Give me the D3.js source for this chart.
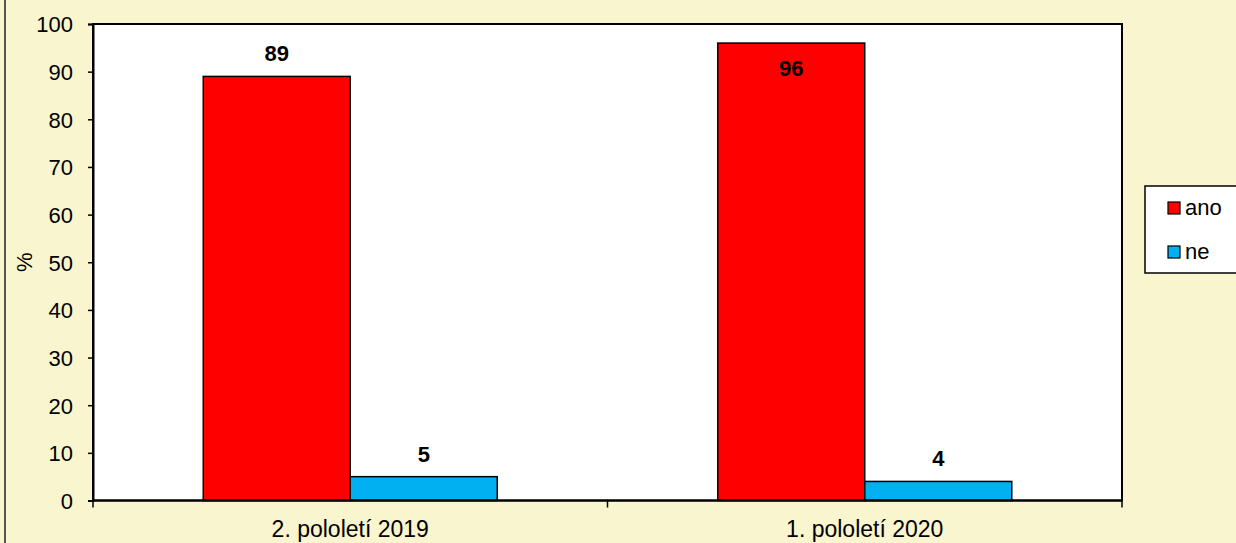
<!DOCTYPE html>
<html>
<head>
<meta charset="utf-8">
<script src="https://cdn.jsdelivr.net/npm/d3@7/dist/d3.min.js"></script>
<style>
  html, body { margin: 0; padding: 0; background: #f9f5ce; }
  svg { display: block; font-family: "Liberation Sans", Arial, sans-serif; }
</style>
</head>
<body>
<svg id="chart" width="1236" height="543"></svg>
<script>
const categories = ["2. pololetí 2019", "1. pololetí 2020"];
const seriesNames = ["ano", "ne"];
const anoValues = [89, 96];
const neValues = [5, 4];
const yTicks = [0, 10, 20, 30, 40, 50, 60, 70, 80, 90, 100];
const colors = { ano: "#ff0000", ne: "#00b0f0" };

const svg = d3.select("#chart");
const plot = { left: 93, right: 1122, top: 24, bottom: 500.5 };

// background + outer frame (cut by the window on the top/right/bottom)
svg.append("rect")
  .attr("x", 0).attr("y", 0).attr("width", 1236).attr("height", 543)
  .attr("fill", "#f9f5ce");
svg.append("rect")
  .attr("x", 5).attr("y", -3).attr("width", 1240).attr("height", 560)
  .attr("fill", "none").attr("stroke", "#555").attr("stroke-width", 2);

const x = d3.scaleBand()
  .domain(categories)
  .range([plot.left, plot.right])
  .padding(0);

const xs = d3.scaleBand()
  .domain(seriesNames)
  .range([0, x.bandwidth()])
  .paddingInner(0)
  .paddingOuter(0.75);

const y = d3.scaleLinear()
  .domain([0, 100])
  .range([plot.bottom, plot.top]);

svg.append("rect")
  .attr("x", plot.left).attr("y", plot.top)
  .attr("width", plot.right - plot.left).attr("height", plot.bottom - plot.top)
  .attr("fill", "#fff");

const rows = categories.map((c, i) => ({ cat: c, ano: anoValues[i], ne: neValues[i] }));

const groups = svg.append("g").selectAll("g")
  .data(rows)
  .join("g")
  .attr("transform", d => `translate(${x(d.cat)},0)`);

groups.selectAll("rect")
  .data(d => seriesNames.map(s => ({ key: s, value: d[s] })))
  .join("rect")
  .attr("x", d => xs(d.key))
  .attr("y", d => y(d.value))
  .attr("width", xs.bandwidth())
  .attr("height", d => y(0) - y(d.value))
  .attr("fill", d => colors[d.key])
  .attr("stroke", "#000")
  .attr("stroke-width", 1.5);

groups.selectAll("text")
  .data(d => seriesNames.map(s => ({ key: s, value: d[s] })))
  .join("text")
  .attr("x", d => xs(d.key) + xs.bandwidth() / 2)
  .attr("y", d => {
    const top = y(d.value);
    // label would leave the plot, so Excel put it inside the bar
    return top - 15 - 16 < plot.top ? top + 33 : top - 15;
  })
  .attr("text-anchor", "middle")
  .attr("font-size", 22)
  .attr("font-weight", "bold")
  .attr("fill", "#000")
  .text(d => d.value);

// plot frame
svg.append("rect")
  .attr("x", plot.left).attr("y", plot.top)
  .attr("width", plot.right - plot.left).attr("height", plot.bottom - plot.top)
  .attr("fill", "none").attr("stroke", "#000").attr("stroke-width", 2);

// y axis
const yAxis = svg.append("g")
  .attr("transform", `translate(${plot.left},0)`)
  .call(d3.axisLeft(y).tickValues(yTicks).tickSize(5).tickPadding(15));
yAxis.select(".domain").attr("stroke", "#000").attr("stroke-width", 2);
yAxis.selectAll(".tick line").attr("stroke", "#000").attr("stroke-width", 1.5);
yAxis.selectAll(".tick text")
  .attr("font-size", 22).attr("fill", "#000")
  .attr("font-family", "Liberation Sans, Arial, sans-serif")
  .attr("dy", "0.36em");

// x axis ticks at band edges
const xEdges = categories.map(c => x(c)).concat([plot.right]);
svg.append("g").selectAll("line")
  .data(xEdges)
  .join("line")
  .attr("x1", d => d).attr("x2", d => d)
  .attr("y1", plot.bottom).attr("y2", plot.bottom + 7)
  .attr("stroke", "#000").attr("stroke-width", 1.5);
svg.append("line")
  .attr("x1", plot.left).attr("x2", plot.right)
  .attr("y1", plot.bottom).attr("y2", plot.bottom)
  .attr("stroke", "#000").attr("stroke-width", 2);

svg.append("g").selectAll("text")
  .data(categories)
  .join("text")
  .attr("x", d => x(d) + x.bandwidth() / 2)
  .attr("y", 537)
  .attr("text-anchor", "middle")
  .attr("font-size", 23)
  .attr("fill", "#000")
  .text(d => d);

// y title
svg.append("text")
  .attr("transform", `translate(32,${(plot.top + plot.bottom) / 2}) rotate(-90)`)
  .attr("text-anchor", "middle")
  .attr("font-size", 22)
  .attr("fill", "#000")
  .text("%");

// legend
const legend = svg.append("g");
legend.append("rect")
  .attr("x", 1145).attr("y", 186).attr("width", 100).attr("height", 87)
  .attr("fill", "#fff").attr("stroke", "#000").attr("stroke-width", 1.5);
const li = legend.selectAll("g")
  .data(seriesNames)
  .join("g")
  .attr("transform", (d, i) => `translate(1168,${202 + i * 44})`);
li.append("rect")
  .attr("width", 12).attr("height", 12)
  .attr("fill", d => colors[d])
  .attr("stroke", "#000").attr("stroke-width", 1.2);
li.append("text")
  .attr("x", 17).attr("y", 13)
  .attr("font-size", 22)
  .attr("fill", "#000")
  .text(d => d);
</script>
</body>
</html>
